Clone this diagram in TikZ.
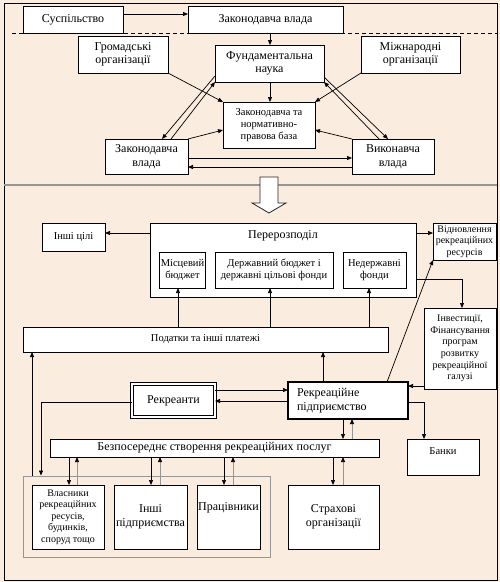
\documentclass[tikz,border=0pt]{standalone}
\usepackage{fontspec}
\setmainfont{Liberation Serif}
\usetikzlibrary{arrows.meta,calc}
\definecolor{bgc}{RGB}{250,236,223}
\definecolor{grl}{RGB}{150,150,150}
\newcommand\BX[7]{\node[#6, minimum width={(#4-#2)*1pt}, minimum height={(#5-#3)*1pt}] (#1) at ({(#2+#4)/2},{(#3+#5)/2}) {#7};}
\newcommand\fA{\fontsize{12}{13.5}\selectfont}
\newcommand\fB{\fontsize{10.5}{12}\selectfont}
\newcommand\fC{\fontsize{10}{11.6}\selectfont}
\tikzset{
  box/.style={draw=black, fill=white, line width=0.8pt, inner sep=1pt, align=center, outer sep=0pt, font=\fA},
  sbox/.style={box, font=\fB},
  arr/.style={-{Triangle[length=5pt,width=4pt]}, line width=0.7pt},
  arg/.style={-{Triangle[length=5pt,width=4pt,color=black]}, line width=0.7pt, draw=grl},
}
\begin{document}
\begin{tikzpicture}[x=1pt,y=-1pt]
\useasboundingbox (0,0) rectangle (500,582);
\fill[bgc] (0,0) rectangle (500,582);
\draw[line width=0.9pt] (4,3) rectangle (497,580);
\draw[dashed, dash pattern=on 4pt off 3pt, line width=0.8pt] (12,33) -- (497,33);
\draw[grl, line width=1.5pt] (4,185) -- (497,185);
% top part
\BX{S}{23}{6}{123}{33}{box}{Суспільство}
\BX{ZVt}{188}{6}{343}{33}{box}{Законодавча влада}
\BX{GO}{78}{36}{168}{73}{box}{Громадські\\організації}
\BX{FN}{215}{45}{324}{82}{box}{Фундаментальна\\наука}
\BX{MO}{361}{36}{460}{73}{box}{Міжнародні\\організації}
\BX{BAZA}{223}{102}{315}{148}{sbox}{Законодавча та\\нормативно-\\правова база}
\BX{ZV}{105}{139}{188}{174}{box}{Законодавча\\влада}
\BX{VV}{352}{139}{434}{174}{box}{Виконавча\\влада}
\draw[arr] (S.east |- 0,14) -- (ZVt.west |- 0,14);
\draw[arr] (ZVt.south -| 270,0) -- (FN.north -| 270,0);
\draw[arr] (FN.south -| 270,0) -- (BAZA.north -| 270,0);
\draw[arr] (GO.south east) -- (BAZA.north west);
\draw[arr] (MO.south west) -- (BAZA.north east);
\draw[arr] (FN.west |- 0,76) -- (ZV.north -| 162,0);
\draw[arr] (ZV.north -| 171,0) -- (FN.south west);
\draw[arr] (FN.east |- 0,77) -- (VV.north -| 388,0);
\draw[arr] (VV.north -| 379,0) -- (FN.south east);
\draw[arr] (ZV.north east) -- (BAZA.west |- 0,130);
\draw[arr] (VV.north west) -- (BAZA.east |- 0,130);
\draw[arr] (ZV.east |- 0,158) -- (VV.west |- 0,158);
\draw[arr] (VV.west |- 0,167) -- (ZV.east |- 0,167);
% hollow arrow
\draw[fill=white, draw=black!85, line width=0.8pt] (260,177) -- (278,177) -- (278,203) -- (286,203) -- (269,213) -- (252,203) -- (260,203) -- cycle;
% lower part
\BX{IC}{42}{223}{105}{251}{sbox}{Інші цілі}
\BX{PR}{150}{223}{416}{297}{box, label={[anchor=north, yshift=-4pt, font=\fA]north:Перерозподіл}}{}
\BX{MB}{160}{252}{205}{288}{sbox}{Місцевий\\бюджет}
\BX{DB}{215}{252}{333}{288}{sbox}{Державний бюджет і\\державні цільові фонди}
\BX{NF}{343}{252}{406}{288}{sbox}{Недержавні\\фонди}
\BX{VR}{433}{223}{496}{260}{box, font=\fC}{Відновлення\\рекреаційних\\ресурсів}
\BX{PP}{23}{327}{388}{352}{sbox}{Податки та інші платежі}
\BX{INV}{424}{308}{496}{389}{box, font=\fC}{Інвестиції,\\Фінансування\\програм\\розвитку\\рекреаційної\\галузі}
\BX{RK}{132}{384}{215}{417}{box, double, double distance=2.2pt, line width=0.8pt}{Рекреанти}
\BX{RP}{288}{382}{408}{419}{box, line width=2.5pt, align=left, text width=102pt, inner xsep=9pt}{Рекреаційне\\підприємство}
\BX{BZ}{50}{439}{379}{457}{box}{Безпосереднє створення рекреаційних послуг}
\BX{BN}{407}{439}{479}{475}{box, label={[anchor=north, yshift=-5pt, font=\fB]north:Банки}}{}
\BX{GR}{23}{476}{270}{557}{draw=grl, line width=1pt}{}
\BX{VL}{32}{485}{104}{549}{box, font=\fC}{Власники\\рекреаційних\\ресусів,\\будинків,\\споруд тощо}
\BX{IP}{114}{485}{187}{549}{box}{Інші\\підприємства}
\BX{PRC}{197}{485}{260}{549}{box, label={[yshift=9pt, font=\fA]center:Працівники}}{}
\BX{ST}{288}{485}{379}{549}{box}{Страхові\\організації}
\draw[arr] (PR.west |- 0,233) -- (IC.east |- 0,233);
\draw[arr] (PR.east |- 0,233) -- (VR.west |- 0,233);
\draw[arr] (PR.east |- 0,279) -| (INV.north -| 462,0);
\foreach \n/\a in {MB/178, DB/270, NF/369}{
  \draw[arr] (PP.north -| \a,0) -- (\n.south -| \a,0);
}
\draw[arr] (RP.north -| 323,0) -- (PP.south -| 323,0);
\draw[arr] (RP.north -| 387,0) -- (VR.south west);
\draw[arr] (INV.west |- 0,386) -- (RP.east |- 0,386);
\draw[arr] (RK.east |- 0,390) -- (RP.west |- 0,390);
\draw[arr] (RP.west |- 0,401) -- (RK.east |- 0,401);
\draw[arr] (RK.west |- 0,402) -| (GR.north -| 41,0);
\draw[arr] (GR.north -| 32,0) -- (PP.south -| 32,0);
\draw[arr] (RP.south -| 343,0) -- (BZ.north -| 343,0);
\draw[arg] (BZ.north -| 352,0) -- (RP.south -| 352,0);
\draw[arr] (RP.east |- 0,402) -| (BN.north -| 424,0);
\foreach \n/\a/\b in {VL/69/77, IP/151/160, PRC/224/233, ST/333/343}{
  \draw[arr] (BZ.south -| \a,0) -- (\n.north -| \a,0);
  \draw[arg] (\n.north -| \b,0) -- (BZ.south -| \b,0);
}
\end{tikzpicture}
\end{document}
